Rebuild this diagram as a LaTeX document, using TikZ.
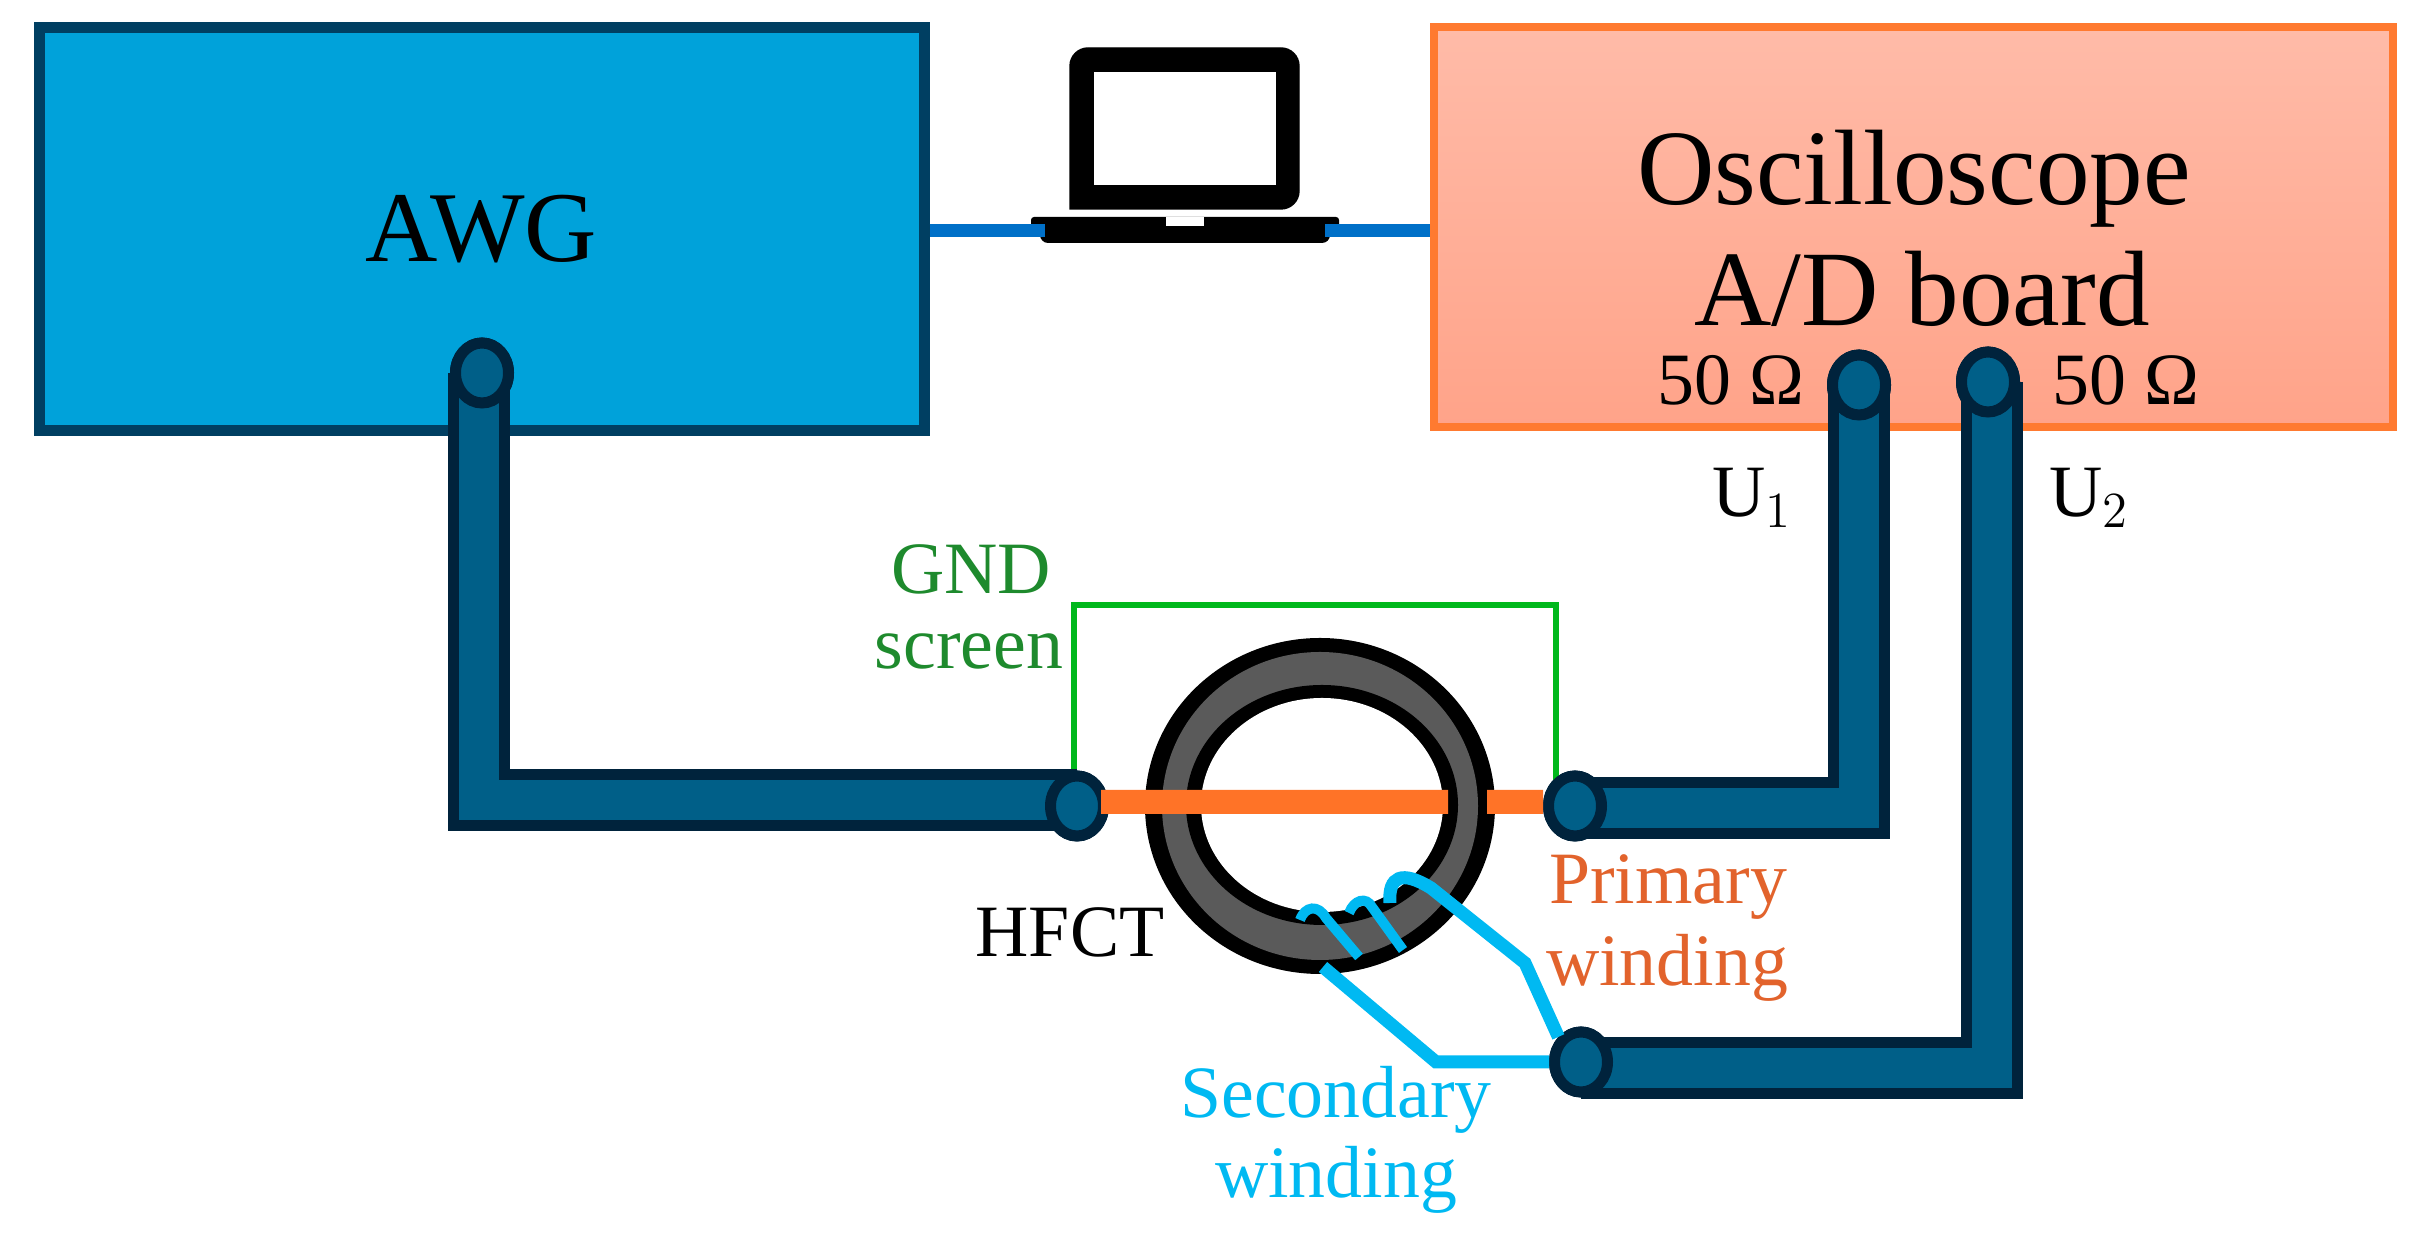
\documentclass[tikz,border=0pt]{standalone}
\usepackage{fontspec}
\setmainfont{Liberation Serif}
\usetikzlibrary{shapes.geometric}
\definecolor{awgblue}{HTML}{00A2DA}
\definecolor{awgdark}{HTML}{003F62}
\definecolor{oscline}{HTML}{FF7A30}
\definecolor{osctop}{HTML}{FFBBA8}
\definecolor{oscbot}{HTML}{FFA389}
\definecolor{cableblue}{HTML}{005F88}
\definecolor{cabledark}{HTML}{00233C}
\definecolor{wireorange}{HTML}{FF7327}
\definecolor{screengreen}{HTML}{00B81C}
\definecolor{secblue}{HTML}{00B9F2}
\definecolor{linkblue}{HTML}{0070C8}
\definecolor{ringgrey}{HTML}{5A5A5A}
\tikzset{
    cable/.style={line width=.11cm, draw=cabledark, double=cableblue, double distance=.40cm},
    port/.style={ellipse, draw=cabledark, fill=cableblue, line width=.11cm, inner sep=0pt, minimum width=.53cm, minimum height=.60cm},
    secwire/.style={draw=secblue, line width=.10cm},
    seclead/.style={draw=secblue, line width=.13cm},
    biglabel/.style={font=\fontsize{30.5}{34}\selectfont},
    smalllabel/.style={font=\fontsize{21}{24}\selectfont},
}
\begin{document}
\begin{tikzpicture}
        \useasboundingbox (0,0) rectangle (24.24,12.36);
        % Below nodes are the two instruments.
            \node[draw=awgdark, fill=awgblue, line width=.11cm, inner sep=0pt, minimum width=8.85cm, minimum height=4.03cm, font=\fontsize{28.5}{32}\selectfont] (awg) at (4.815,10.065) {AWG};
            \node[draw=oscline, top color=osctop, bottom color=oscbot, line width=.08cm, inner sep=0pt, minimum width=9.59cm, minimum height=4.00cm] (osc) at (19.135,10.09) {};
        % This draws the laptop.
            \draw[fill=black, rounded corners=.18cm] (10.70,10.27) -- (10.70,11.88) -- (12.99,11.88) -- (12.99,10.27) [sharp corners] -- cycle;
            \node[fill=white, inner sep=0pt, minimum width=1.82cm, minimum height=1.13cm] (display) at (11.85,11.075) {};
            \node[fill=black, rounded corners=.03cm, inner sep=0pt, minimum width=3.08cm, minimum height=.20cm] (laptop) at (11.85,10.09) {};
            \node[fill=black, rounded corners=.08cm, inner sep=0pt, minimum width=2.90cm, minimum height=.20cm] (laptopbase) at (11.85,10.03) {};
            \node[fill=white, inner sep=0pt, minimum width=.38cm, minimum height=.09cm] (notch) at (11.85,10.145) {};
            \draw[linkblue, line width=.13cm] (awg.east |- 0,10.05) -- (10.45,10.05);
            \draw[linkblue, line width=.13cm] (13.25,10.05) -- (osc.west |- 0,10.05);
        % Ports go first, so the cables can use their names.
            \node[port] (awgport) at (4.82,8.63) {};
            \node[port] (leftport) at (10.77,4.30) {};
            \node[port] (rightport) at (15.75,4.30) {};
            \node[port] (secport) at (15.81,1.74) {};
            \node[port] (uoneport) at (18.59,8.51) {};
            \node[port] (utwoport) at (19.88,8.54) {};
        % This draws the GND screen.
            \draw[screengreen, line width=.055cm] (10.74,4.60) |- (15.56,6.31) -- (15.56,4.55);
        % Cables.
            \draw[cable] ([xshift=-.03cm]awgport.center) |- ([yshift=.06cm]leftport.center);
            \draw[cable] (uoneport.center) |- ([yshift=-.02cm]rightport.center);
            \draw[cable] ([xshift=.04cm]utwoport.center) |- ([yshift=-.06cm]secport.center);
            \node[port] at (awgport) {};
            \node[port] at (leftport) {};
            \node[port] at (rightport) {};
            \node[port] at (secport) {};
            \node[port] at (uoneport) {};
            \node[port] at (utwoport) {};
        % This draws the core.
            \node[ellipse, fill=black, inner sep=0pt, minimum width=3.50cm, minimum height=3.36cm] (core) at (13.20,4.30) {};
            \node[ellipse, fill=ringgrey, inner sep=0pt, minimum width=3.16cm, minimum height=3.08cm] (coregrey) at (13.20,4.30) {};
            \node[ellipse, fill=black, inner sep=0pt, minimum width=2.72cm, minimum height=2.40cm] (coreedge) at (13.22,4.31) {};
            \node[ellipse, fill=white, inner sep=0pt, minimum width=2.42cm, minimum height=2.14cm] (corehole) at (13.22,4.31) {};
        % Primary winding passes behind the right side of the core.
            \coordinate (wirein) at (14.48,4.34);
            \coordinate (wireout) at (14.87,4.34);
            \draw[wireorange, line width=.24cm] ([xshift=-.08cm,yshift=.04cm]leftport.east) -- (wirein);
            \draw[wireorange, line width=.24cm] (wireout) -- ([yshift=.04cm]rightport.west);
        % Secondary winding.
            \draw[secwire] (13.00,3.16) .. controls (13.05,3.30) and (13.18,3.32) .. (13.26,3.18) -- (13.59,2.79);
            \draw[secwire] (13.49,3.23) .. controls (13.54,3.36) and (13.66,3.40) .. (13.72,3.29) -- (14.03,2.86);
            \draw[seclead] (13.90,3.33) .. controls (13.88,3.60) and (14.02,3.66) .. (14.31,3.48) -- (15.25,2.73) -- (secport.north west);
            \coordinate (seclow) at (13.23,2.69);
            \draw[seclead] (seclow) -- (14.36,1.74) -- (secport.west);
        % Below nodes are the labels.
            \node[biglabel] (osclabel) at (19.14,10.57) {Oscilloscope};
            \node[biglabel] (adlabel) at (19.22,9.47) {A/D board};
            \node[smalllabel] (ohmleft) at (17.31,8.56) {50 Ω};
            \node[smalllabel] (ohmright) at (21.26,8.56) {50 Ω};
            \node[smalllabel] (uone) at (17.52,7.38) {U$_1$};
            \node[smalllabel] (utwo) at (20.89,7.38) {U$_2$};
            \node[smalllabel, text={rgb,255:red,30;green,138;blue,45}] (gnd) at (9.71,6.67) {GND};
            \node[smalllabel, text={rgb,255:red,30;green,138;blue,45}] (scr) at (9.69,5.85) {screen};
            \node[smalllabel] (hfct) at (10.70,3.04) {HFCT};
            \node[smalllabel, text={rgb,255:red,226;green,99;blue,44}] (prima) at (16.68,3.49) {Primary};
            \node[smalllabel, text={rgb,255:red,226;green,99;blue,44}] (primb) at (16.67,2.68) {winding};
            \node[smalllabel, text=secblue] (seca) at (13.36,1.36) {Secondary};
            \node[smalllabel, text=secblue] (secb) at (13.36,.56) {winding};
    \end{tikzpicture}
\end{document}
